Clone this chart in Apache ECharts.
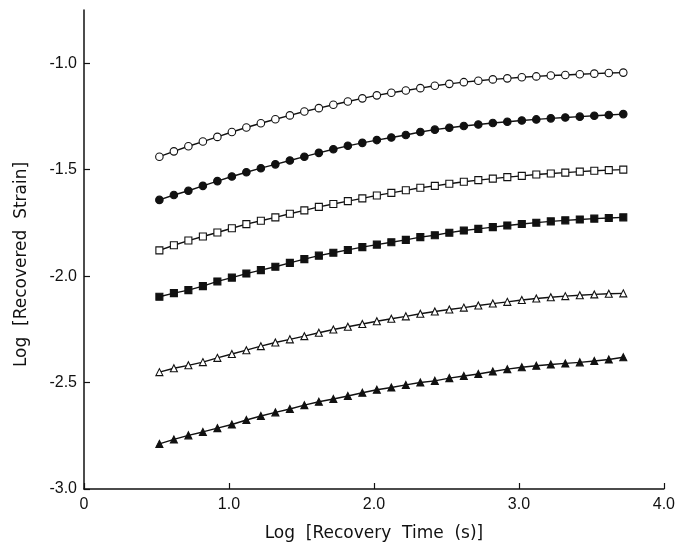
<!DOCTYPE html>
<html>
<head>
<meta charset="utf-8">
<script src="https://cdn.jsdelivr.net/npm/echarts@6/dist/echarts.min.js"></script>
<style>
  html, body { margin: 0; padding: 0; background: #fff; }
  #chart { width: 678px; height: 547px; }
</style>
</head>
<body>
<div id="chart"></div>
<script>
// Log recovery time (s) at which each recovered strain was recorded
const logTime = [0.52, 0.62, 0.72, 0.82, 0.92, 1.02, 1.12, 1.22, 1.32, 1.42, 1.52,
  1.62, 1.72, 1.82, 1.92, 2.02, 2.12, 2.22, 2.32, 2.42, 2.52, 2.62, 2.72,
  2.82, 2.92, 3.02, 3.12, 3.22, 3.32, 3.42, 3.52, 3.62, 3.72];

// Log recovered strain, one curve per marker type
const openCircles = [-1.439, -1.414, -1.390, -1.368, -1.346, -1.323, -1.302, -1.282, -1.263, -1.245, -1.227,
  -1.211, -1.195, -1.180, -1.165, -1.151, -1.139, -1.128, -1.117, -1.106, -1.097, -1.089, -1.082,
  -1.076, -1.071, -1.066, -1.062, -1.058, -1.055, -1.052, -1.049, -1.046, -1.044];
const filledCircles = [-1.642, -1.619, -1.599, -1.576, -1.554, -1.532, -1.512, -1.493, -1.475, -1.457, -1.439,
  -1.421, -1.404, -1.388, -1.374, -1.361, -1.349, -1.337, -1.323, -1.312, -1.303, -1.295, -1.288,
  -1.281, -1.275, -1.269, -1.264, -1.259, -1.255, -1.251, -1.247, -1.243, -1.239];
const openSquares = [-1.879, -1.855, -1.833, -1.814, -1.795, -1.775, -1.756, -1.740, -1.724, -1.707, -1.691,
  -1.675, -1.661, -1.648, -1.635, -1.621, -1.609, -1.597, -1.585, -1.576, -1.566, -1.557, -1.549,
  -1.542, -1.535, -1.529, -1.523, -1.518, -1.514, -1.509, -1.505, -1.502, -1.500];
const filledSquares = [-2.097, -2.080, -2.066, -2.047, -2.025, -2.007, -1.988, -1.972, -1.956, -1.938, -1.920,
  -1.904, -1.890, -1.877, -1.864, -1.852, -1.841, -1.830, -1.817, -1.808, -1.796, -1.786, -1.778,
  -1.770, -1.762, -1.755, -1.749, -1.743, -1.738, -1.734, -1.730, -1.727, -1.724];
const openTriangles = [-2.451, -2.433, -2.419, -2.404, -2.384, -2.366, -2.348, -2.329, -2.312, -2.297, -2.282,
  -2.266, -2.251, -2.238, -2.225, -2.212, -2.200, -2.189, -2.177, -2.166, -2.157, -2.148, -2.138,
  -2.129, -2.121, -2.112, -2.105, -2.099, -2.094, -2.090, -2.086, -2.083, -2.081];
const filledTriangles = [-2.788, -2.767, -2.748, -2.732, -2.714, -2.697, -2.676, -2.657, -2.640, -2.624, -2.606,
  -2.590, -2.577, -2.563, -2.548, -2.534, -2.523, -2.511, -2.500, -2.492, -2.479, -2.469, -2.460,
  -2.448, -2.437, -2.428, -2.421, -2.415, -2.410, -2.405, -2.399, -2.392, -2.381];

// Axis ticks and their printed labels
const xTicks = [0, 1, 2, 3, 4];
const xTickLabels = ['0', '1.0', '2.0', '3.0', '4.0'];
const yTicks = [-3, -2.5, -2, -1.5, -1];
const yTickLabels = ['-3.0', '-2.5', '-2.0', '-1.5', '-1.0'];

const FONT = 'Liberation Sans';
const TITLE_FONT = 'DejaVu Sans';
const INK = '#111';

function curve(values, symbol, filled) {
  return {
    type: 'line',
    data: logTime.map((t, i) => [t, values[i]]),
    symbol: symbol,
    symbolSize: symbol === 'circle' ? 7.5 : 7,
    showAllSymbol: true,
    smooth: false,
    lineStyle: { color: INK, width: 1.4 },
    itemStyle: {
      color: filled ? INK : '#fff',
      borderColor: INK,
      borderWidth: 1.1
    },
    emphasis: { disabled: true },
    z: 3
  };
}

const chart = echarts.init(document.getElementById('chart'), null, { renderer: 'canvas' });
chart.setOption({
  animation: false,
  backgroundColor: '#fff',
  grid: { left: 84, right: 12, top: 10, bottom: 57, containLabel: false },
  xAxis: {
    type: 'value',
    min: 0,
    max: 4,
    name: 'Log  [Recovery  Time  (s)]',
    nameLocation: 'middle',
    nameGap: 36,
    nameTextStyle: { fontFamily: TITLE_FONT, fontSize: 17, color: INK },
    axisLine: { show: true, lineStyle: { color: INK, width: 1.5 } },
    axisTick: { show: true, inside: true, length: 6, customValues: xTicks,
      lineStyle: { color: INK, width: 1.2 } },
    axisLabel: {
      customValues: xTicks,
      formatter: (v) => xTickLabels[xTicks.indexOf(v)],
      fontFamily: FONT, fontSize: 16, color: INK, margin: 8
    },
    splitLine: { show: false }
  },
  yAxis: {
    type: 'value',
    min: -3,
    max: -0.75,
    name: 'Log  [Recovered  Strain]',
    nameLocation: 'middle',
    nameGap: 54,
    nameRotate: 90,
    nameTextStyle: { fontFamily: TITLE_FONT, fontSize: 17, color: INK, padding: [0, 30, 0, 0] },
    axisLine: { show: true, lineStyle: { color: INK, width: 1.5 } },
    axisTick: { show: true, inside: true, length: 6, customValues: yTicks,
      lineStyle: { color: INK, width: 1.2 } },
    axisLabel: {
      customValues: yTicks,
      formatter: (v) => yTickLabels[yTicks.indexOf(v)],
      fontFamily: FONT, fontSize: 16, color: INK, margin: 7
    },
    splitLine: { show: false }
  },
  series: [
    curve(openCircles, 'circle', false),
    curve(filledCircles, 'circle', true),
    curve(openSquares, 'rect', false),
    curve(filledSquares, 'rect', true),
    curve(openTriangles, 'triangle', false),
    curve(filledTriangles, 'triangle', true)
  ]
});
</script>
</body>
</html>
